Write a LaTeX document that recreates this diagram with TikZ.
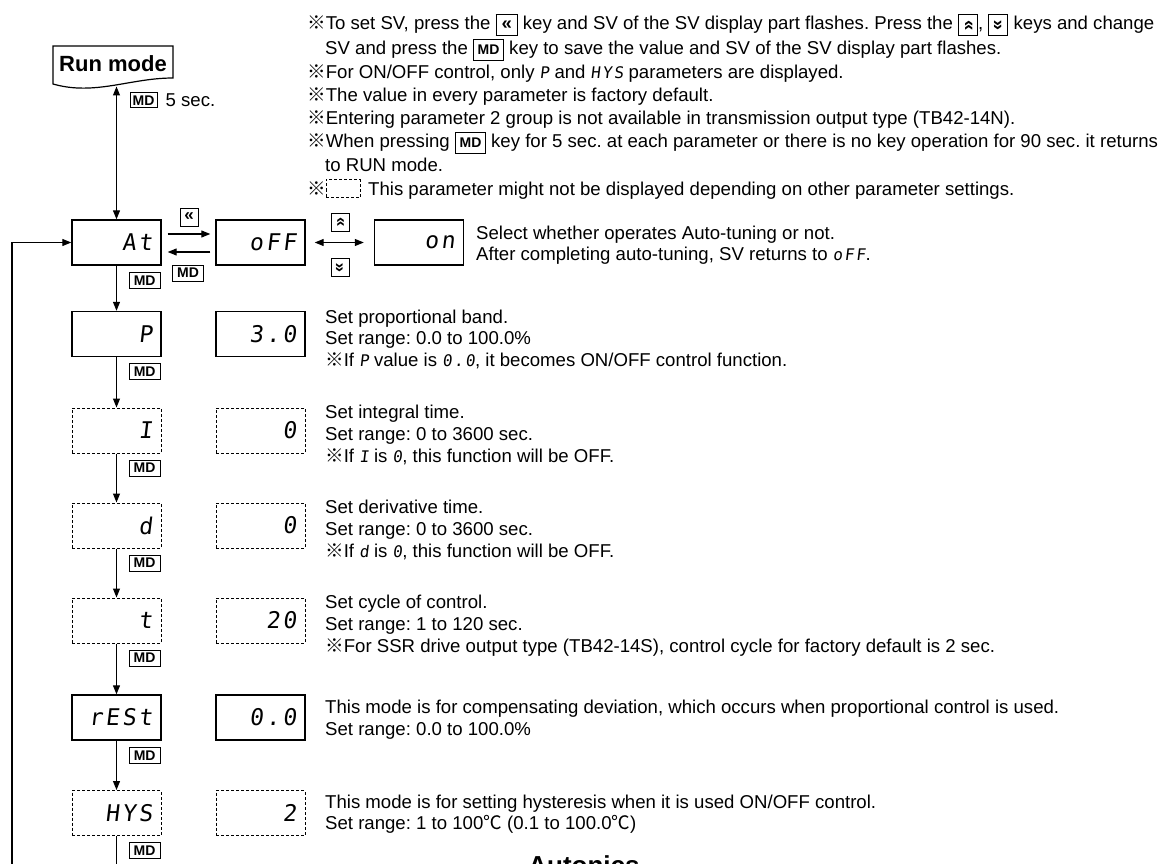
\documentclass[tikz,border=0pt]{standalone}
\usepackage{fontspec}
\usepackage{graphicx}
\setmainfont{Liberation Sans}
\newfontfamily\cjk{Noto Sans CJK JP}
\newfontfamily\seg[FakeSlant=0.12,LetterSpace=12]{DejaVu Sans Mono}
\usetikzlibrary{arrows.meta,positioning}
\frenchspacing

\newcommand{\refmark}{{\cjk ※}}
\newcommand{\degc}{{\cjk ℃}}
\newcommand{\segs}[1]{{\seg\fontsize{16}{16}\selectfont #1}}
\newcommand{\tkey}[2]{{\setlength{\fboxsep}{1.5pt}\setlength{\fboxrule}{1pt}\fbox{\makebox[#1][c]{\rule[-4pt]{0pt}{17pt}#2}}}}
\newcommand{\keyl}{\tkey{17pt}{\bfseries «}}
\newcommand{\keyu}{\tkey{15pt}{\rotatebox[origin=c]{-90}{\bfseries «}}}
\newcommand{\keyd}{\tkey{15pt}{\rotatebox[origin=c]{90}{\bfseries «}}}
\newcommand{\keymd}{\tkey{26pt}{\fontsize{14}{14}\selectfont\bfseries MD}}

\begin{document}
\begin{tikzpicture}[x=1pt,y=-1pt]
\tikzset{disp/.style={draw,line width=1.4pt,minimum width=89pt,minimum height=45pt,inner sep=0pt,
                      text width=72pt,align=right,font=\seg\fontsize{23}{23}\selectfont},
         optdisp/.style={disp,line width=1pt,dash pattern=on 3pt off 2pt},
         keybox/.style={draw,line width=1pt,inner sep=0pt,minimum width=18pt,minimum height=18pt,
                        font=\fontsize{17}{17}\selectfont\bfseries},
         mdkey/.style={draw,line width=1pt,inner sep=0pt,minimum width=31pt,minimum height=16pt,
                       font=\fontsize{14}{14}\selectfont\bfseries},
         arr/.style={-{Triangle[length=9pt,width=7pt]},line width=1.1pt},
         dblarr/.style={{Triangle[length=9pt,width=7pt]}-{Triangle[length=9pt,width=7pt]},line width=1.1pt},
         desc/.style={anchor=base west,inner sep=0pt,font=\fontsize{18.6}{21}\selectfont}}
\useasboundingbox (0,0) rectangle (1173,864);
\clip (0,0) rectangle (1173,864);

% run mode
\draw[line width=1.2pt] (53,46) -- (173,46) -- (173,78) .. controls (130,78) and (95,96) .. (53,84) -- cycle;
\node[inner sep=0pt,font=\bfseries\fontsize{22}{22}\selectfont] (run) at (113,64) {Run mode};
\coordinate (runbot) at (116.5,86.5);
\node[mdkey,minimum width=27pt,minimum height=15pt] (md-run) at (143.5,100.5) {MD};
\node[right=8pt of md-run,inner sep=0pt,font=\fontsize{18.6}{21}\selectfont] (fivesec) {5 sec.};

% auto-tuning row
\node[disp] (at) at (116.5,242.5) {At};
\node[disp] (off) at (260.5,242.5) {oFF};
\node[disp] (on) at (419,242.5) {on};
\draw[dblarr] (runbot) -- (at);
\draw[arr] ([shift={(6,-8.5)}]at.east) -- ([shift={(-5,-8.5)}]off.west);
\draw[arr] ([shift={(-5,9.5)}]off.west) -- ([shift={(6,9.5)}]at.east);
\node[keybox] (key-left) at (189,217) {«};
\node[mdkey] (md-off) at (188,273) {MD};
\draw[dblarr] ([xshift=9pt]off.east) -- ([xshift=-10pt]on.west);
\node[keybox] (key-up) at (340,222.5) {\rotatebox[origin=c]{-90}{«}};
\node[keybox] (key-down) at (340,267.5) {\rotatebox[origin=c]{90}{«}};

% parameters and their factory values
\foreach \n/\y/\lab/\val in {p/334/P/3.0, rest/717.5/rESt/0.0}
{
    \node[disp] (\n) at (116.5,\y) {\lab};
    \node[disp] (\n-val) at (260.5,\y) {\val};
}
\foreach \n/\y/\lab/\val in {i/430.5/I/0, d/525.5/d/0, t/620.5/t/20, hys/813/HYS/2}
{
    \node[optdisp] (\n) at (116.5,\y) {\lab};
    \node[optdisp] (\n-val) at (260.5,\y) {\val};
}
\foreach \a/\b in {at/p, p/i, i/d, d/t, t/rest, rest/hys}
{
    \draw[arr] (\a) -- (\b);
    \node[mdkey,anchor=north east] (md-\a) at ([shift={(-1,6)}]\a.south east) {MD};
}
\node[mdkey,anchor=north east] (md-hys) at ([shift={(-1,6)}]hys.south east) {MD};

% return loop
\coordinate (loopbot) at (12,880);
\draw[line width=1.1pt] (hys) -- (hys |- loopbot);
\draw[arr] (loopbot) |- (at);

% notes
\foreach \x/\y/\txt [count=\k] in {
    307/29.5/{\refmark To set SV, press the \keyl{} key and SV of the SV display part flashes. Press the \keyu, \keyd{} keys and change},
    325/54.5/{SV and press the \keymd{} key to save the value and SV of the SV display part flashes.},
    307/78.5/{\refmark For ON/OFF control, only \segs{P} and \segs{HYS} parameters are displayed.},
    307/101.5/{\refmark The value in every parameter is factory default.},
    307/124.5/{\refmark Entering parameter 2 group is not available in transmission output type (TB42-14N).},
    307/147.5/{\refmark When pressing \keymd{} key for 5 sec. at each parameter or there is no key operation for 90 sec. it returns},
    325/171.5/{to RUN mode.},
    307/195.5/{\refmark}}
    \node[desc] (note-\k) at (\x,\y) {\txt};
\node[draw,line width=1pt,dash pattern=on 3pt off 2pt,minimum width=34pt,minimum height=18pt,inner sep=0pt]
    (dashkey) at (343,188.5) {};
\node[desc] (note-last) at (368,195.5) {This parameter might not be displayed depending on other parameter settings.};

% descriptions
\foreach \x/\y/\txt [count=\k] in {
    476/239.5/{Select whether operates Auto-tuning or not.},
    476/260.5/{After completing auto-tuning, SV returns to \segs{oFF}.},
    325/323/{Set proportional band.},
    325/344.5/{Set range: 0.0 to 100.0\%},
    325/366/{\refmark If \segs{P} value is \segs{0.0}, it becomes ON/OFF control function.},
    325/418.5/{Set integral time.},
    325/440.5/{Set range: 0 to 3600 sec.},
    325/462.5/{\refmark If \segs{I} is \segs{0}, this function will be OFF.},
    325/513.5/{Set derivative time.},
    325/535.5/{Set range: 0 to 3600 sec.},
    325/557.5/{\refmark If \segs{d} is \segs{0}, this function will be OFF.},
    325/608.5/{Set cycle of control.},
    325/630.5/{Set range: 1 to 120 sec.},
    325/652.5/{\refmark For SSR drive output type (TB42-14S), control cycle for factory default is 2 sec.},
    325/713.5/{This mode is for compensating deviation, which occurs when proportional control is used.},
    325/735.5/{Set range: 0.0 to 100.0\%},
    325/808.5/{This mode is for setting hysteresis when it is used ON/OFF control.},
    325/829.5/{Set range: 1 to 100\degc{} (0.1 to 100.0\degc)}}
    \node[desc] (desc-\k) at (\x,\y) {\txt};

\node[anchor=base,inner sep=0pt,font=\bfseries\fontsize{26}{26}\selectfont] (logo) at (584,874) {Autonics};
\end{tikzpicture}
\end{document}
